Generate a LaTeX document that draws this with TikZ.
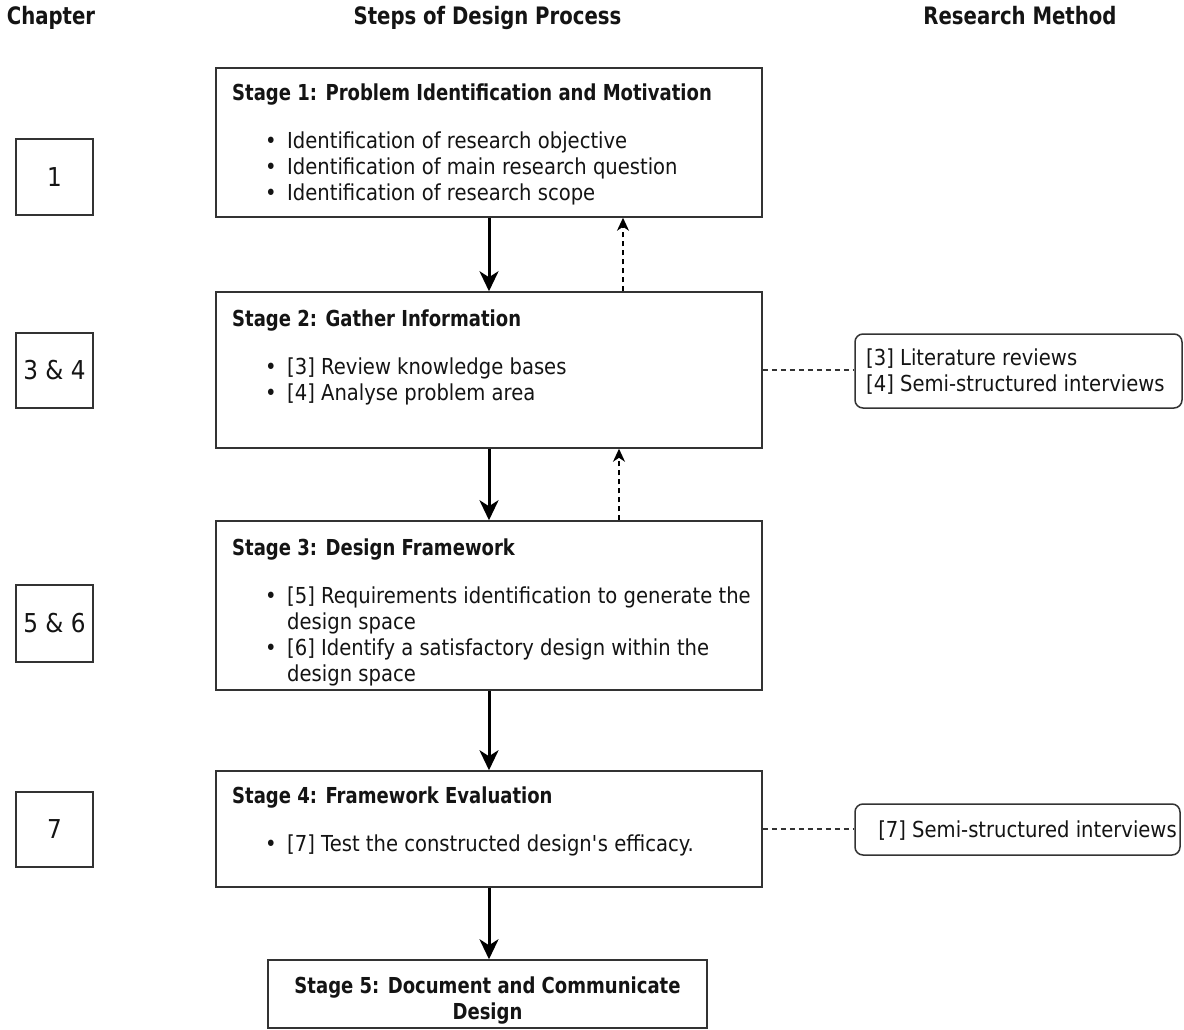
\documentclass[tikz,border=0pt]{standalone}
\usepackage{fontspec}
\setmainfont{DejaVu Sans}[FakeStretch=0.89]
\newfontfamily\headfont{DejaVu Sans}[FakeStretch=0.82]
\usetikzlibrary{arrows.meta}

\definecolor{edge}{gray}{0.2}
\definecolor{ink}{gray}{0.08}

% every text line carries the same strut so baselines are predictable
\newcommand\lnstrut{\rule{0pt}{18pt}}
\newcommand\titleline[1]{\noindent\lnstrut{\headfont\bfseries #1}\par\vspace{22pt}}
\newcommand\bitem[1]{\noindent\lnstrut\hspace*{33pt}\makebox[22pt][l]{\textbullet}#1\par}
\newcommand\citem[1]{\noindent\lnstrut\hspace*{55pt}#1\par}
\newcommand\boxtext[2]{\parbox[t]{#1}{\fontsize{22}{26}\selectfont\raggedright\parindent=0pt\parskip=0pt #2}}

\begin{document}
\begin{tikzpicture}[x=1pt,y=-1pt,
  box/.style={draw=edge, line width=1.5pt, fill=white, inner sep=0pt},
  stagebox/.style={box, minimum width=546pt},
  chapbox/.style={box, minimum width=77pt, minimum height=76pt,
    font=\fontsize{26}{30}\selectfont, text=ink},
  methodbox/.style={box, rounded corners=8pt},
  hdr/.style={font=\headfont\bfseries\fontsize{24}{28}\selectfont, text=ink, inner sep=0pt, anchor=base},
  flow/.style={line width=3pt, draw=black, -{Stealth[length=20pt,width=19pt,inset=6pt]}},
  back/.style={line width=1.5pt, draw=black, dash pattern=on 5pt off 4pt,
    -{Stealth[length=13pt,width=12pt,inset=4pt]}},
  link/.style={line width=1.5pt, draw=edge, dash pattern=on 5pt off 4pt},
  body/.style={inner sep=0pt, anchor=north west, text=ink}
]
\fill[white] (0,0) rectangle (1184,1030);
\useasboundingbox (0,0) rectangle (1184,1030);

% column headings
\node[hdr] (hchap) at (51,25) {Chapter};
\node[hdr] (hsteps) at (487.5,25) {Steps of Design Process};
\node[hdr] (hmeth) at (1020,25) {Research Method};

% chapter boxes
\node[chapbox] (c1) at (54.5,177) {1};
\node[chapbox, minimum height=75pt] (c2) at (54.5,370.5) {3 \& 4};
\node[chapbox, minimum height=77pt] (c3) at (54.5,623.5) {5 \& 6};
\node[chapbox, minimum height=75pt] (c4) at (54.5,829.5) {7};

% design process stages
\node[stagebox, minimum height=149pt] (s1) at (489,142.5) {};
\node[stagebox, minimum height=156pt] (s2) at (489,370) {};
\node[stagebox, minimum height=169pt] (s3) at (489,605.5) {};
\node[stagebox, minimum height=116pt] (s4) at (489,829) {};
\node[box, minimum width=439pt, minimum height=68pt] (s5) at (487.5,994) {};

\node[body] (s1txt) at (232,82) {\boxtext{525pt}{%
  \titleline{Stage 1: Problem Identification and Motivation}
  \bitem{Identification of research objective}
  \bitem{Identification of main research question}
  \bitem{Identification of research scope}}};

\node[body] (s2txt) at (232,308) {\boxtext{525pt}{%
  \titleline{Stage 2: Gather Information}
  \bitem{[3] Review knowledge bases}
  \bitem{[4] Analyse problem area}}};

\node[body] (s3txt) at (232,537) {\boxtext{525pt}{%
  \titleline{Stage 3: Design Framework}
  \bitem{[5] Requirements identification to generate the}
  \citem{design space}
  \bitem{[6] Identify a satisfactory design within the}
  \citem{design space}}};

\node[body] (s4txt) at (232,785) {\boxtext{525pt}{%
  \titleline{Stage 4: Framework Evaluation}
  \bitem{[7] Test the constructed design\textquotesingle s efficacy.}}};

\node[body, anchor=north] (s5txt) at (487.5,975) {\parbox[t]{430pt}{%
  \fontsize{22}{26}\selectfont\centering\headfont\bfseries
  \lnstrut Stage 5: Document and Communicate\\\lnstrut Design}};

% research methods
\node[methodbox, minimum width=327pt, minimum height=74pt] (r1) at (1018.5,371) {};
\node[body] (r1txt) at (866,347) {\boxtext{310pt}{%
  \noindent\lnstrut [3] Literature reviews\par
  \noindent\lnstrut [4] Semi-structured interviews\par}};
\node[methodbox, minimum width=325pt, minimum height=51pt] (r2) at (1017.5,829.5) {};
\node[inner sep=0pt, anchor=base, text=ink, font=\fontsize{22}{26}\selectfont]
  (r2txt) at (1027.5,837) {[7] Semi-structured interviews};

% forward flow
\draw[flow] (s1.south) -- (s2.north);
\draw[flow] (s2.south) -- (s3.north);
\draw[flow] (s3.south) -- (s4.north);
\draw[flow] (s4.south) -- (s4.south |- s5.north);

% feedback
\draw[back] ([xshift=134pt]s2.north) -- ([xshift=134pt]s1.south);
\draw[back] ([xshift=130pt]s3.north) -- ([xshift=130pt]s2.south);

% methods attached to stages
\draw[link] (s2.east) -- (s2.east -| r1.west);
\draw[link] (s4.east) -- (s4.east -| r2.west);
\end{tikzpicture}
\end{document}
